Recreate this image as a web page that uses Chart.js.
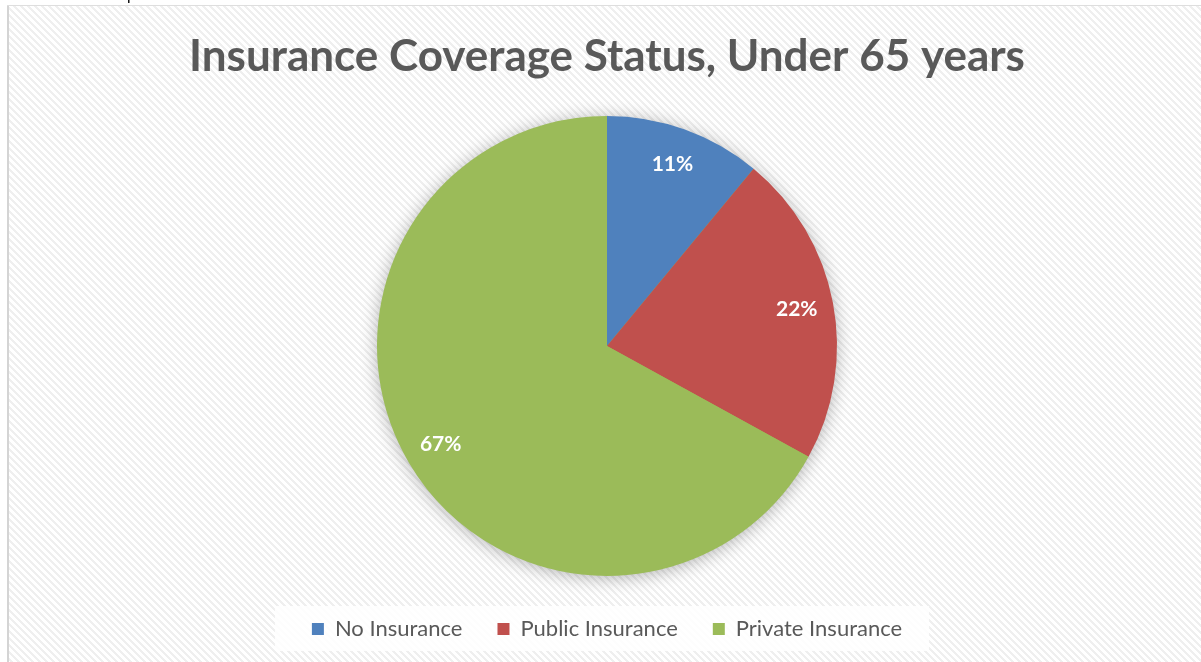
<!DOCTYPE html>
<html>
<head>
<meta charset="utf-8">
<script src="https://cdn.jsdelivr.net/npm/chart.js@4.4.1/dist/chart.umd.min.js"></script>
<style>
    body { margin: 0; background: #ffffff; overflow: hidden; }
    #wrap { position: relative; width: 1201px; height: 662px; }
    #cut { position: absolute; left: 127px; top: -14px; font: 16px 'Liberation Sans', sans-serif; color: #000; }
</style>
</head>
<body>
<div id="wrap">
    <canvas id="coverageChart" width="1201" height="662"></canvas>
    <span id="cut">p</span>
</div>
<script>
// Chart data
const categories = ['No Insurance', 'Public Insurance', 'Private Insurance'];
const shares = [11, 22, 67];
const sliceColors = ['#4F81BD', '#C0504D', '#9BBB59'];
const titleText = 'Insurance Coverage Status, Under 65 years';

const textGray = '#595959';

// Diagonal hatch used as the chart background
function makeHatch() {
    const tile = document.createElement('canvas');
    tile.width = 7;
    tile.height = 7;
    const t = tile.getContext('2d');
    t.fillStyle = '#ffffff';
    t.fillRect(0, 0, 7, 7);
    t.fillStyle = '#efefef';
    for (let y = 0; y < 7; y++) {
        for (let x = 0; x < 7; x++) {
            if (((x - y) % 7 + 7) % 7 < 3) {
                t.fillRect(x, y, 1, 1);
            }
        }
    }
    return tile;
}

const backgroundPlugin = {
    id: 'hatchBackground',
    beforeDraw(chart) {
        const ctx = chart.ctx;
        ctx.save();
        ctx.fillStyle = '#ffffff';
        ctx.fillRect(0, 0, chart.width, chart.height);
        ctx.fillStyle = ctx.createPattern(makeHatch(), 'repeat');
        ctx.fillRect(8, 5, chart.width - 8, chart.height - 5);

        // frame on the left and top
        ctx.fillStyle = '#d4d4d4';
        ctx.fillRect(7, 5, 2, chart.height - 5);
        ctx.fillStyle = '#dedede';
        ctx.fillRect(7, 5, chart.width - 7, 1);

        // white panel behind the legend
        const boxes = chart.legend && chart.legend.legendHitBoxes;
        if (boxes && boxes.length) {
            const first = boxes[0];
            const last = boxes[boxes.length - 1];
            const mid = first.top + first.height / 2;
            ctx.fillStyle = 'rgba(255, 255, 255, 0.88)';
            ctx.fillRect(first.left - 37, mid - 23, last.left + last.width + 27 - (first.left - 37), 45);
        }
        ctx.restore();
    },
    beforeDatasetsDraw(chart) {
        // soft shadow under the whole pie
        const arc = chart.getDatasetMeta(0).data[0];
        if (!arc) return;
        const ctx = chart.ctx;
        ctx.save();
        ctx.shadowColor = 'rgba(0, 0, 0, 0.32)';
        ctx.shadowBlur = 18;
        ctx.shadowOffsetY = 2;
        ctx.fillStyle = '#9BBB59';
        ctx.beginPath();
        ctx.arc(arc.x, arc.y, arc.outerRadius - 1, 0, Math.PI * 2);
        ctx.fill();
        ctx.restore();
    }
};

// Percentage labels inside the slices
const sliceLabels = {
    id: 'sliceLabels',
    afterDatasetsDraw(chart) {
        const ctx = chart.ctx;
        const meta = chart.getDatasetMeta(0);
        const data = chart.data.datasets[0].data;
        const total = data.reduce((a, b) => a + b, 0);
        ctx.save();
        ctx.fillStyle = '#ffffff';
        ctx.font = 'bold 21px Lato';
        ctx.textAlign = 'center';
        ctx.textBaseline = 'middle';
        meta.data.forEach((arc, i) => {
            const mid = (arc.startAngle + arc.endAngle) / 2;
            const r = arc.outerRadius * 0.84;
            const x = arc.x + Math.cos(mid) * r;
            const y = arc.y + Math.sin(mid) * r;
            ctx.fillText(Math.round(data[i] / total * 100) + '%', x, y);
        });
        ctx.restore();
    }
};

const ctx = document.getElementById('coverageChart').getContext('2d');

new Chart(ctx, {
    type: 'pie',
    data: {
        labels: categories,
        datasets: [{
            data: shares,
            backgroundColor: sliceColors,
            borderWidth: 0,
            radius: 230
        }]
    },
    options: {
        responsive: false,
        animation: false,
        layout: {
            padding: { top: 5, left: 13, right: 0, bottom: 12 }
        },
        plugins: {
            title: {
                display: true,
                text: titleText,
                color: textGray,
                font: { family: 'Lato', size: 44, weight: 'bold' },
                padding: { top: 25, bottom: 26 }
            },
            legend: {
                position: 'bottom',
                labels: {
                    color: textGray,
                    font: { family: 'Lato', size: 22 },
                    boxWidth: 12,
                    boxHeight: 12,
                    padding: 35
                }
            },
            tooltip: { enabled: false }
        }
    },
    plugins: [backgroundPlugin, sliceLabels]
});
</script>
</body>
</html>
